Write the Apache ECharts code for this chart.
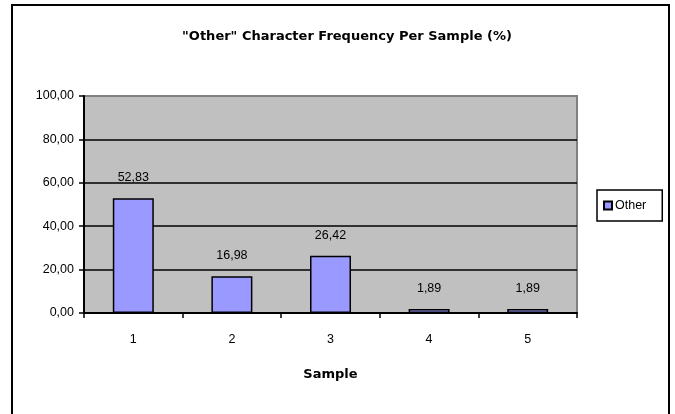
<!DOCTYPE html>
<html>
<head>
<meta charset="utf-8">
<script src="https://cdn.jsdelivr.net/npm/echarts@6/dist/echarts.min.js"></script>
<style>
html,body{margin:0;padding:0;background:#fff;}
#chart{width:675px;height:414px;}
</style>
</head>
<body>
<div id="chart"></div>
<script>
var categories = ['1', '2', '3', '4', '5'];
var otherValues = [52.83, 16.98, 26.42, 1.89, 1.89];
var seriesName = 'Other';
var titleText = '"Other" Character Frequency Per Sample (%)';
var xAxisName = 'Sample';

function fmt(v) { return Number(v).toFixed(2).replace('.', ','); }

var chart = echarts.init(document.getElementById('chart'));
chart.setOption({
  animation: false,
  backgroundColor: '#ffffff',
  title: {
    text: titleText,
    left: 342, top: 25, textAlign: 'center',
    textStyle: { fontFamily: 'DejaVu Sans', fontWeight: 'bold', fontSize: 13, color: '#000' }
  },
  legend: {
    data: [seriesName],
    left: 597, top: 190,
    padding: [9, 16, 9, 6],
    borderColor: '#000', borderWidth: 1.5,
    backgroundColor: '#fff',
    itemWidth: 8, itemHeight: 8, itemGap: 4,
    icon: 'rect',
    textStyle: { fontFamily: 'Liberation Sans', fontSize: 12.5, color: '#000', padding: [0, 0, 0, -2] }
  },
  graphic: [{
    type: 'rect', z: 100, silent: true,
    shape: { x: 12, y: 5, width: 657, height: 430 },
    style: { fill: null, stroke: '#000', lineWidth: 2 }
  }],
  grid: {
    left: 84, right: 98, top: 96, bottom: 101,
    show: true, backgroundColor: '#C0C0C0', borderColor: '#808080', borderWidth: 2
  },
  xAxis: {
    type: 'category', data: categories,
    name: xAxisName, nameLocation: 'middle', nameGap: 55,
    nameTextStyle: { fontFamily: 'DejaVu Sans', fontWeight: 'bold', fontSize: 13, color: '#000' },
    axisLine: { lineStyle: { color: '#000', width: 2 } },
    axisTick: { show: true, inside: false, length: 5, lineStyle: { color: '#000', width: 1.5 } },
    axisLabel: { fontFamily: 'Liberation Sans', fontSize: 12.5, color: '#000', margin: 20 }
  },
  yAxis: {
    type: 'value', min: 0, max: 100, interval: 20,
    axisLine: { show: true, lineStyle: { color: '#000', width: 2 } },
    axisTick: { show: true, inside: false, length: 5, lineStyle: { color: '#000', width: 1.5 } },
    axisLabel: { fontFamily: 'Liberation Sans', fontSize: 12.5, color: '#000', margin: 10, formatter: fmt },
    splitLine: { show: true, lineStyle: { color: ['#000', '#000', '#000', '#000', '#000', '#808080'], width: 1.5 } }
  },
  series: [{
    name: seriesName, type: 'bar', data: otherValues,
    barWidth: 41,
    itemStyle: { color: '#9999FF', borderColor: '#000', borderWidth: 1.5 },
    label: {
      show: true, position: 'top', distance: 14,
      fontFamily: 'Liberation Sans', fontSize: 12.5, color: '#000',
      formatter: function (p) { return fmt(p.value); }
    }
  }]
});
</script>
</body>
</html>
